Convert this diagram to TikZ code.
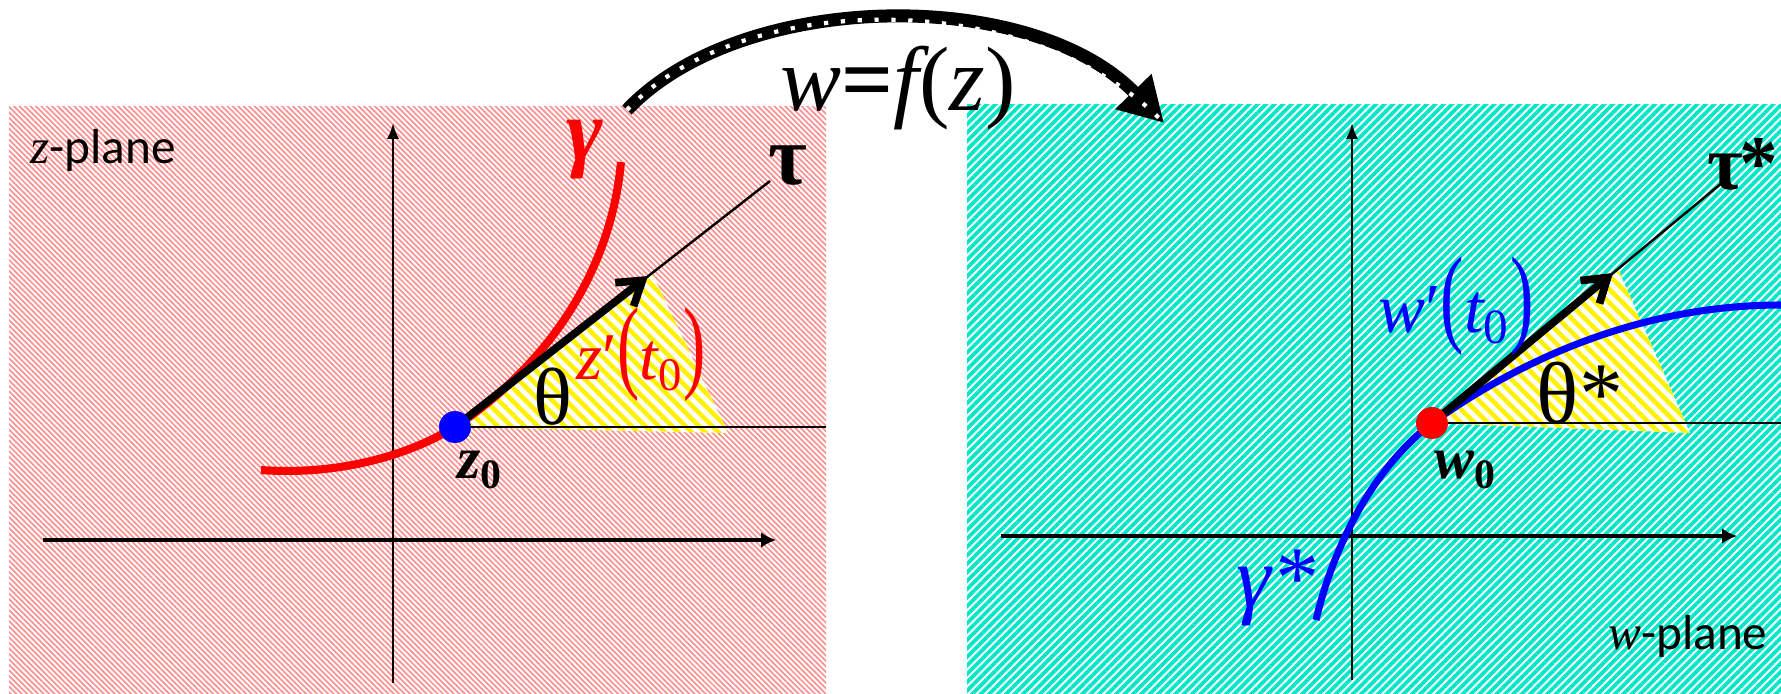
\documentclass[tikz,border=0pt]{standalone}
\usepackage{fontspec}
\usepackage{graphicx}
\setmainfont{Liberation Serif}
\newfontfamily\planefont{Carlito}
\usetikzlibrary{positioning,arrows.meta,patterns.meta}
\definecolor{zpink}{RGB}{255,140,140}
\definecolor{wteal}{RGB}{0,230,200}
\definecolor{hatchyellow}{RGB}{255,242,0}
\tikzset{
  zpanel/.style={preaction={fill=white}, pattern={Lines[angle=-45,distance=1.1pt,line width=0.45pt]}, pattern color=zpink},
  wpanel/.style={preaction={fill=white}, pattern={Lines[angle=45,distance=1.7pt,line width=1.05pt]}, pattern color=wteal},
  anglefill/.style={preaction={fill=white}, pattern={Lines[angle=-45,distance=2.7pt,line width=1.3pt]}, pattern color=hatchyellow},
  vaxis/.style={-{Latex[length=4.5pt,width=3.4pt]}, line width=0.7pt},
  haxis/.style={-{Latex[length=4.2pt,width=4.4pt]}, line width=0.9pt},
  rayline/.style={line width=0.8pt},
  tanline/.style={line width=0.7pt},
  vecarrow/.style={-{Straight Barb[length=6.5pt,width=8.5pt]}, line width=2.2pt},
  zcurve/.style={red, line width=2.3pt},
  wcurve/.style={blue, line width=2pt},
  pointdot/.style={circle, inner sep=0pt, minimum size=9pt},
  maparrow/.style={-{Triangle[length=12.5pt,width=13.5pt]}, line width=3.7pt},
  mapdots/.style={white, line width=1.2pt, dash pattern=on 1.2pt off 3.6pt},
  maplabel/.style={font=\fontsize{26}{28}\selectfont},
  greeklabel/.style={font=\fontsize{24}{26}\selectfont},
  derivlabel/.style={font=\fontsize{19}{21}\selectfont},
  pointlabel/.style={font=\fontsize{17}{19}\selectfont\bfseries\itshape},
  planelabel/.style={font=\fontsize{14}{16}\selectfont}
}

\begin{document}
\begin{tikzpicture}[x=0.01cm, y=-0.01cm]
  \useasboundingbox (0,0) rectangle (1781,694);
  % the two planes
  \path[zpanel] (9,106) rectangle (826,694);
  \path[wpanel] (967,104) rectangle (1781,694);

  % z-plane
  \node[pointdot, fill=blue] (z0) at (455,427) {};
  \path[anglefill] (z0.center) -- (652,273) -- (728,433) -- cycle;
  \coordinate (zxl) at (43,540);
  \coordinate (zxr) at (776,540);
  \coordinate (zyb) at (393,683);
  \coordinate (zyt) at (393,123);
  \draw[haxis] (zxl) -- (zxr);
  \draw[vaxis] (zyb) -- (zyt);
  \coordinate (zray) at (826,427);
  \coordinate (ztau) at (770,181);
  \coordinate (ztip) at (648,276);
  \draw[rayline] (z0.center) -- (zray);
  \draw[tanline] (z0.center) -- (ztau);
  \coordinate (gstart) at (261,470);
  \coordinate (gend) at (621,162);
  \draw[zcurve] (gstart) .. controls (330,475) and (400,460) .. (z0.center)
    .. controls (540,370) and (610,280) .. (gend);
  \draw[vecarrow] (z0.center) -- (ztip);
  \node[pointdot, fill=blue] at (z0) {};
  \node[planelabel] (zplane) at (103,150) {\itshape z\upshape{\planefont -plane}};
  \node[greeklabel, text=red, font=\fontsize{25}{27}\selectfont\bfseries\itshape] (gam) at (585,150) {γ};
  \node[greeklabel, font=\fontsize{24}{26}\selectfont\bfseries] (tau) at (788,166) {τ};
  \node[greeklabel, font=\fontsize{23}{25}\selectfont] (theta) at (553,397) {θ};
  \node[derivlabel, text=red] (zder) at (641,355) {\itshape z\upshape′\scalebox{1}[1.55]{(}\itshape t\textsubscript{\upshape 0}\upshape\scalebox{1}[1.55]{)}};
  \node[pointlabel] (z0lab) at (480,470) {z\textsubscript{\upshape 0}};

  % mapping arrow
  \coordinate (mapstart) at (627,110);
  \coordinate (mapend) at (1164,123);
  \draw[maparrow] (mapstart) .. controls (740,-10) and (1030,-15) .. (mapend);
  \draw[mapdots] (mapstart) .. controls (740,-10) and (1030,-15) .. (mapend);
  \node[maplabel] (wfz) at (898,88) {\itshape w\upshape\textbf{=}\itshape f\upshape(\itshape z\upshape)};

  % w-plane
  \node[pointdot, fill=red] (w0) at (1432,423) {};
  \path[anglefill] (w0.center) -- (1618,269) -- (1690,433) -- cycle;
  \coordinate (wxl) at (1001,536);
  \coordinate (wxr) at (1737,536);
  \coordinate (wyb) at (1352,680);
  \coordinate (wyt) at (1352,123);
  \draw[haxis] (wxl) -- (wxr);
  \draw[vaxis] (wyb) -- (wyt);
  \coordinate (wray) at (1781,423);
  \coordinate (wtau) at (1723,182);
  \coordinate (wtip) at (1613,273);
  \draw[rayline] (w0.center) -- (wray);
  \draw[tanline] (w0.center) -- (wtau);
  \coordinate (hstart) at (1316,620);
  \coordinate (hend) at (1781,305);
  \draw[wcurve] (hstart) .. controls (1330,560) and (1365,475) .. (w0.center)
    .. controls (1520,360) and (1640,305) .. (hend);
  \draw[vecarrow] (w0.center) -- (wtip);
  \node[pointdot, fill=red] at (w0) {};
  \node[greeklabel, font=\fontsize{22}{24}\selectfont\bfseries, anchor=east, inner sep=0pt] (taus) at (1779,164) {τ\kern-0.05em*};
  \node[greeklabel, font=\fontsize{25}{27}\selectfont] (thetas) at (1580,393) {θ*};
  \node[derivlabel, text=blue, font=\fontsize{20}{22}\selectfont] (wder) at (1456,306) {\itshape w\upshape′\scalebox{1}[1.55]{(}\itshape t\textsubscript{\upshape 0}\upshape\scalebox{1}[1.55]{)}};
  \node[pointlabel] (w0lab) at (1466,470) {w\textsubscript{\upshape 0}};
  \node[greeklabel, text=blue, font=\fontsize{25}{27}\selectfont\itshape] (gams) at (1276,588) {γ*};
  \node[planelabel] (wplane) at (1688,636) {\itshape w\upshape{\planefont -plane}};
\end{tikzpicture}
\end{document}
